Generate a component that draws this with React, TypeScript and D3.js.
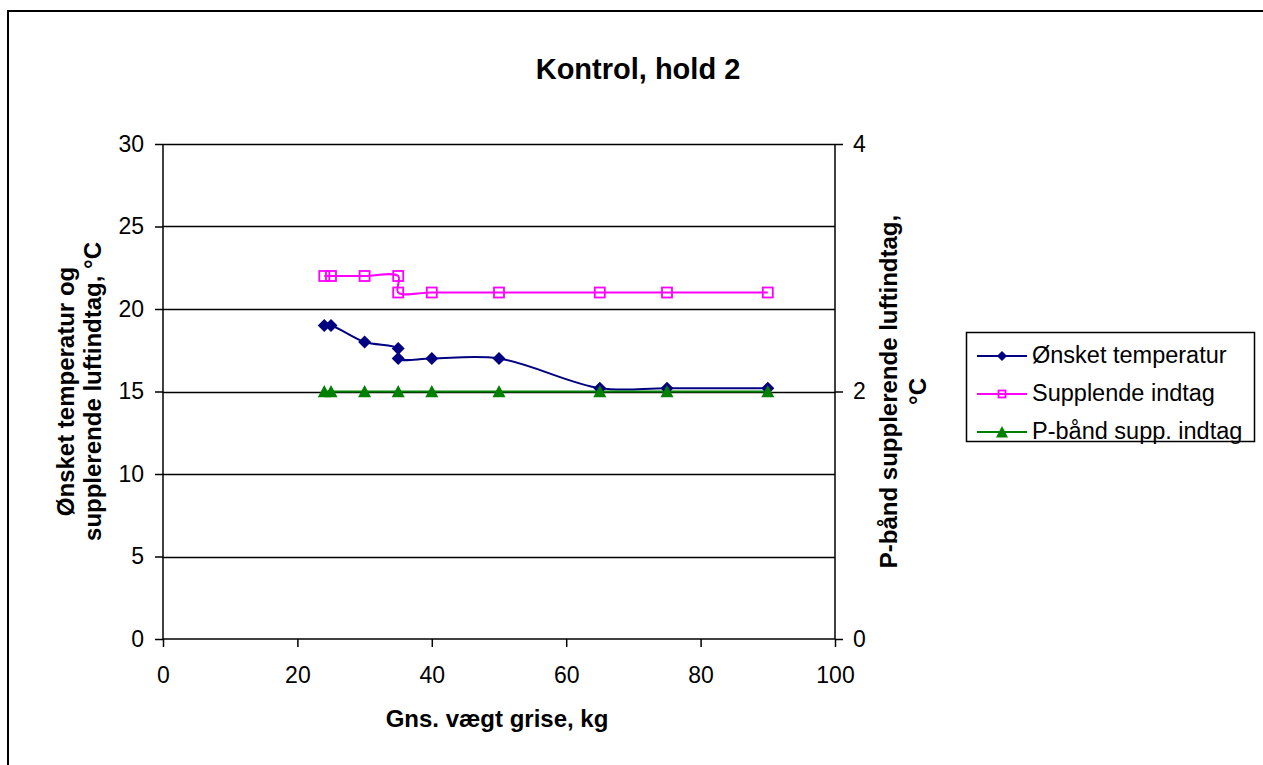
import { useEffect, useRef } from "react";
import * as d3 from "d3";

// weights (kg) and values
const weights = [24, 25, 30, 35, 35, 40, 50, 65, 75, 90];
const wantedTemp = [19, 19, 18, 17.6, 17, 17, 17, 15.2, 15.2, 15.2];
const suppWeights = [24, 25, 30, 35, 35, 40, 50, 65, 75, 90];
const suppIntake = [22, 22, 22, 22, 21, 21, 21, 21, 21, 21];
const bandWeights = [24, 25, 30, 35, 40, 50, 65, 75, 90];
const bandValues = [2, 2, 2, 2, 2, 2, 2, 2, 2];

const xTicks = [0, 20, 40, 60, 80, 100];
const leftTicks = [0, 5, 10, 15, 20, 25, 30];
const rightTicks = [0, 2, 4];

const seriesNames = ["Ønsket temperatur", "Supplende indtag", "P-bånd supp. indtag"];
const colors = ["#000080", "#FF00FF", "#008000"];

const font = "Arial, 'Liberation Sans', sans-serif";

const App = () => {
  const ref = useRef<SVGSVGElement | null>(null);

  useEffect(() => {
    const svg = d3.select(ref.current);
    svg.selectAll("*").remove();

    const width = 1263;
    const height = 765;
    const plot = { left: 163, right: 835, top: 144, bottom: 639 };

    const x = d3.scaleLinear().domain([0, 100]).range([plot.left, plot.right]);
    const yL = d3.scaleLinear().domain([0, 30]).range([plot.bottom, plot.top]);
    const yR = d3.scaleLinear().domain([0, 4]).range([plot.bottom, plot.top]);

    svg.append("rect").attr("width", width).attr("height", height).attr("fill", "#fff");

    // outer chart border
    svg
      .append("rect")
      .attr("x", 8)
      .attr("y", 11)
      .attr("width", width + 20)
      .attr("height", height + 20)
      .attr("fill", "none")
      .attr("stroke", "#000")
      .attr("stroke-width", 2);

    // gridlines
    svg
      .append("g")
      .selectAll("line")
      .data(leftTicks.filter((d) => d > 0))
      .enter()
      .append("line")
      .attr("x1", plot.left)
      .attr("x2", plot.right)
      .attr("y1", (d) => Math.round(yL(d)) + 0.5)
      .attr("y2", (d) => Math.round(yL(d)) + 0.5)
      .attr("stroke", "#000")
      .attr("stroke-width", 1.5);

    // axes
    const gx = svg
      .append("g")
      .attr("transform", `translate(0,${plot.bottom})`)
      .call(d3.axisBottom(x).tickValues(xTicks).tickSize(8).tickPadding(20));
    const gl = svg
      .append("g")
      .attr("transform", `translate(${plot.left},0)`)
      .call(d3.axisLeft(yL).tickValues(leftTicks).tickSize(8).tickPadding(11));
    const gr = svg
      .append("g")
      .attr("transform", `translate(${plot.right},0)`)
      .call(
        d3.axisRight(yR).tickValues(rightTicks).tickFormat(d3.format("d")).tickSize(8).tickPadding(10)
      );

    [gx, gl, gr].forEach((g) => {
      g.attr("font-size", null).attr("font-family", null);
      g.select(".domain").attr("stroke", "#000").attr("stroke-width", 1.5);
      g.selectAll(".tick line").attr("stroke", "#000").attr("stroke-width", 1.5);
      g.selectAll(".tick text")
        .attr("fill", "#000")
        .style("font-family", font)
        .style("font-size", "23px");
    });
    gx.select(".domain").attr("d", `M${plot.left},0H${plot.right}`);
    gl.select(".domain").attr("d", `M0,${plot.bottom}V${plot.top}`);
    gr.select(".domain").attr("d", `M0,${plot.bottom}V${plot.top}`);

    // smoothed lines
    const line = d3
      .line<[number, number]>()
      .x((d) => x(d[0]))
      .y((d) => d[1])
      .curve(d3.curveCatmullRom.alpha(0.5));

    const wantedPts: [number, number][] = weights.map((w, i) => [w, yL(wantedTemp[i])]);
    const suppPts: [number, number][] = suppWeights.map((w, i) => [w, yL(suppIntake[i])]);
    const bandPts: [number, number][] = bandWeights.map((w, i) => [w, yR(bandValues[i])]);

    [suppPts, wantedPts, bandPts].forEach((pts, i) => {
      const c = [colors[1], colors[0], colors[2]][i];
      svg
        .append("path")
        .attr("d", line(pts))
        .attr("fill", "none")
        .attr("stroke", c)
        .attr("stroke-width", 2);
    });

    // markers
    const diamond = (g: any, cx: number, cy: number, s: number) =>
      g
        .append("path")
        .attr("d", `M${cx},${cy - s}L${cx + s},${cy}L${cx},${cy + s}L${cx - s},${cy}Z`)
        .attr("fill", colors[0]);
    const square = (g: any, cx: number, cy: number, s: number) =>
      g
        .append("rect")
        .attr("x", cx - s)
        .attr("y", cy - s)
        .attr("width", 2 * s)
        .attr("height", 2 * s)
        .attr("fill", "none")
        .attr("stroke", colors[1])
        .attr("stroke-width", 1.8);
    const triangle = (g: any, cx: number, cy: number, s: number) =>
      g
        .append("path")
        .attr("d", `M${cx},${cy - s}L${cx + s},${cy + s * 0.9}L${cx - s},${cy + s * 0.9}Z`)
        .attr("fill", colors[2]);

    const mk = svg.append("g");
    suppPts.forEach((p) => square(mk, x(p[0]), p[1], 5));
    wantedPts.forEach((p) => diamond(mk, x(p[0]), p[1], 6.5));
    bandPts.forEach((p) => triangle(mk, x(p[0]), p[1], 6.5));

    // title and axis titles
    svg
      .append("text")
      .attr("x", 638)
      .attr("y", 79)
      .attr("text-anchor", "middle")
      .style("font-family", font)
      .style("font-size", "29px")
      .style("font-weight", "bold")
      .text("Kontrol, hold 2");

    svg
      .append("text")
      .attr("x", 497)
      .attr("y", 727)
      .attr("text-anchor", "middle")
      .style("font-family", font)
      .style("font-size", "24px")
      .style("font-weight", "bold")
      .text("Gns. vægt grise, kg");

    const leftTitle = svg
      .append("text")
      .attr("transform", `translate(74,${(plot.top + plot.bottom) / 2}) rotate(-90)`)
      .attr("text-anchor", "middle")
      .style("font-family", font)
      .style("font-size", "24px")
      .style("font-weight", "bold");
    leftTitle.append("tspan").attr("x", 0).attr("dy", 0).text("Ønsket temperatur og");
    leftTitle.append("tspan").attr("x", 0).attr("dy", 27).text("supplerende luftindtag, °C");

    const rightTitle = svg
      .append("text")
      .attr("transform", `translate(897,${(plot.top + plot.bottom) / 2}) rotate(-90)`)
      .attr("text-anchor", "middle")
      .style("font-family", font)
      .style("font-size", "24px")
      .style("font-weight", "bold");
    rightTitle.append("tspan").attr("x", 0).attr("dy", 0).text("P-bånd supplerende luftindtag,");
    rightTitle.append("tspan").attr("x", 0).attr("dy", 29).text("°C");

    // legend
    const lg = svg.append("g");
    lg.append("rect")
      .attr("x", 966.5)
      .attr("y", 332.5)
      .attr("width", 288)
      .attr("height", 109)
      .attr("fill", "#fff")
      .attr("stroke", "#000")
      .attr("stroke-width", 1.5);
    const rowY = [356, 394, 432];
    const drawers = [diamond, square, triangle];
    const sizes = [5, 3.5, 6];
    seriesNames.forEach((name, i) => {
      lg.append("line")
        .attr("x1", 977)
        .attr("x2", 1027)
        .attr("y1", rowY[i])
        .attr("y2", rowY[i])
        .attr("stroke", colors[i])
        .attr("stroke-width", 2);
      drawers[i](lg, 1002, rowY[i], sizes[i]);
      lg.append("text")
        .attr("x", 1032)
        .attr("y", rowY[i])
        .attr("dy", "0.3em")
        .style("font-family", font)
        .style("font-size", "23.5px")
        .text(name);
    });
  }, []);

  return (
    <svg
      ref={ref}
      width={1263}
      height={765}
      style={{ position: "fixed", left: 0, top: 0, display: "block" }}
    />
  );
};

export default App;
